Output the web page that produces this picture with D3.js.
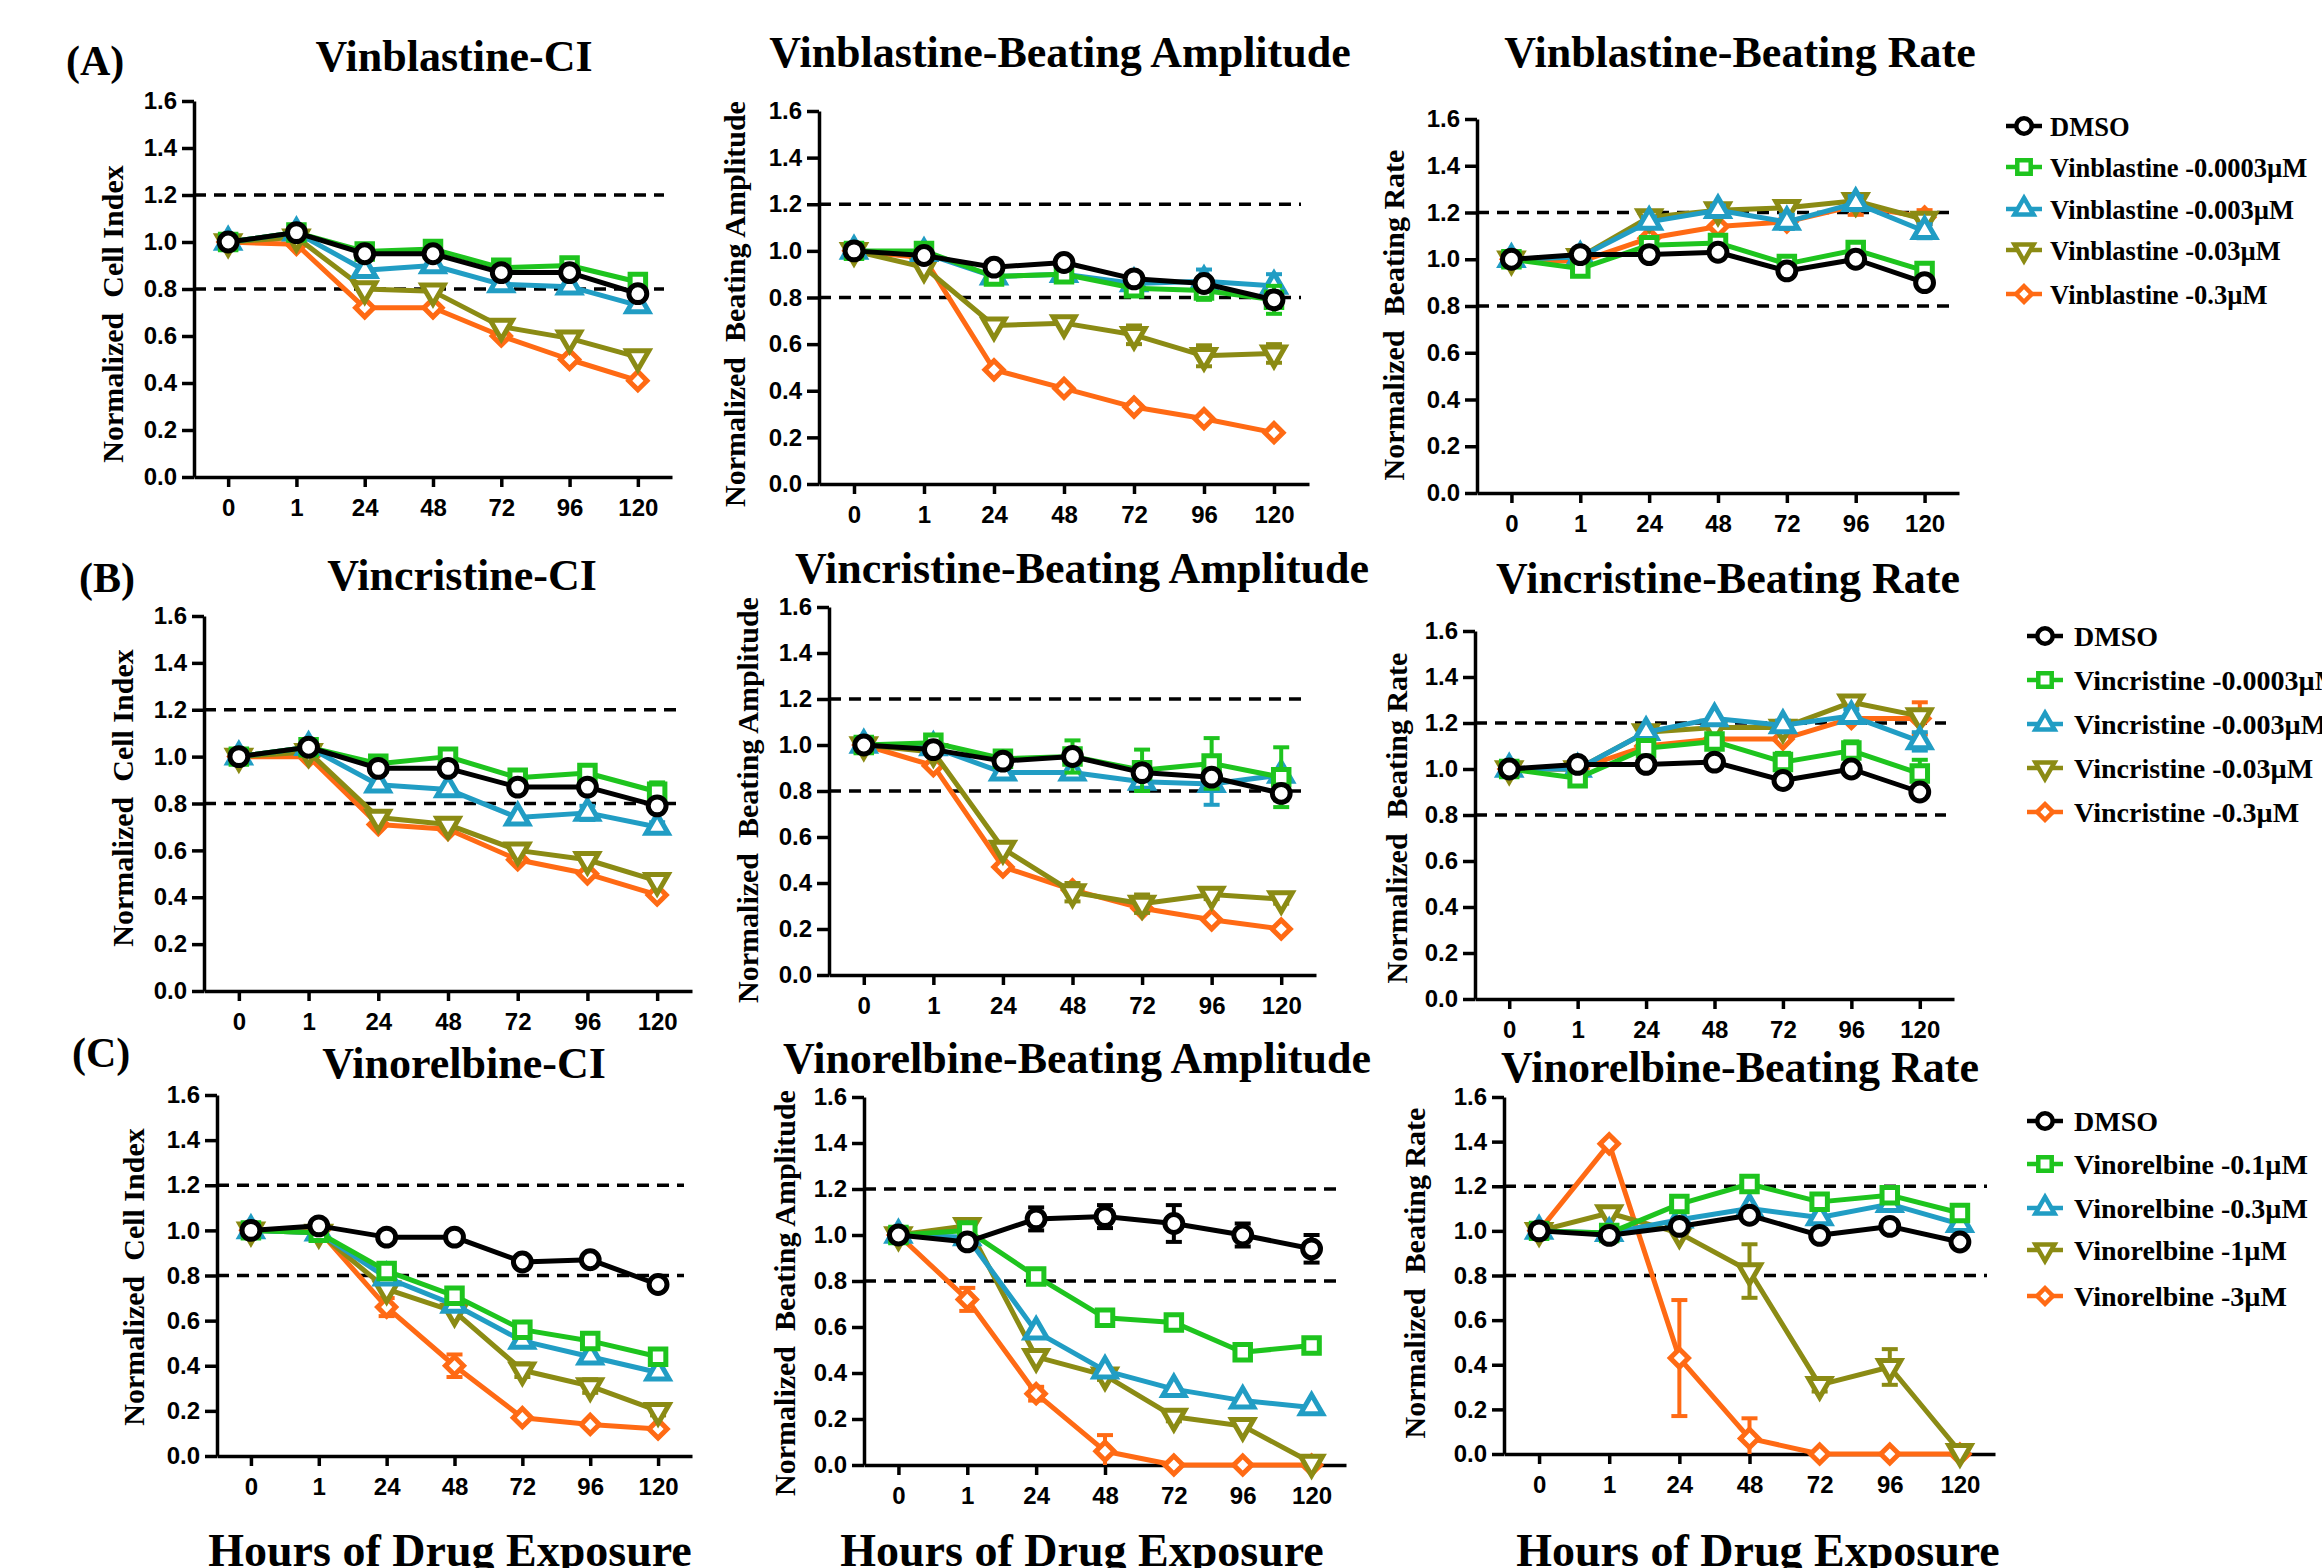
<!DOCTYPE html>
<html>
<head>
<meta charset="utf-8">
<script src="https://cdn.jsdelivr.net/npm/d3@7"></script>
<style>
  body { margin: 0; background: #fff; }
  svg { display: block; }
</style>
</head>
<body>
<script>
// x categories and y ticks shared by all nine panels
const hours = ["0", "1", "24", "48", "72", "96", "120"];
const yTicks = [0, 0.2, 0.4, 0.6, 0.8, 1.0, 1.2, 1.4, 1.6];
const thresholds = [0.8, 1.2];

const vinblastineLegend = ["DMSO", "Vinblastine -0.0003µM", "Vinblastine -0.003µM", "Vinblastine -0.03µM", "Vinblastine -0.3µM"];
const vincristineLegend = ["DMSO", "Vincristine -0.0003µM", "Vincristine -0.003µM", "Vincristine -0.03µM", "Vincristine -0.3µM"];
const vinorelbineLegend = ["DMSO", "Vinorelbine -0.1µM", "Vinorelbine -0.3µM", "Vinorelbine -1µM", "Vinorelbine -3µM"];

// each panel: [DMSO, dose1, dose2, dose3, dose4]
const vinblastineCI = [
  [1.00, 1.04, 0.95, 0.95, 0.87, 0.87, 0.78],
  [1.00, 1.04, 0.96, 0.97, 0.89, 0.90, 0.83],
  [1.00, 1.04, 0.88, 0.90, 0.82, 0.81, 0.73],
  [1.00, 1.02, 0.80, 0.79, 0.64, 0.59, 0.51],
  [1.00, 0.99, 0.72, 0.72, 0.60, 0.50, 0.41]
];
const vinblastineAmp = [
  [1.00, 0.98, 0.93, 0.95, 0.88, 0.86, 0.79],
  [1.00, 1.00, 0.89, 0.90, 0.84, 0.83, 0.79],
  [1.00, 0.99, 0.89, 0.90, 0.86, 0.87, 0.85],
  [1.00, 0.93, 0.68, 0.69, 0.64, 0.55, 0.56],
  [1.00, 0.97, 0.49, 0.41, 0.33, 0.28, 0.22]
];
const vinblastineAmpErr = [
  [0, 0, 0, 0, 0, 0, 0.03],
  [0, 0, 0, 0, 0.02, 0.04, 0.06],
  [0, 0, 0, 0, 0.02, 0.05, 0.05],
  [0, 0, 0, 0, 0.04, 0.045, 0.04],
  [0, 0, 0, 0, 0, 0, 0]
];
const vinblastineRate = [
  [1.00, 1.02, 1.02, 1.03, 0.95, 1.00, 0.90],
  [1.00, 0.96, 1.06, 1.07, 0.98, 1.04, 0.95],
  [1.00, 1.01, 1.16, 1.21, 1.16, 1.24, 1.12],
  [1.00, 1.01, 1.18, 1.21, 1.22, 1.25, 1.17],
  [1.00, 0.99, 1.09, 1.14, 1.16, 1.23, 1.18]
];
const vinblastineRateErr = [
  [0, 0, 0, 0, 0.02, 0, 0],
  [0, 0, 0.02, 0.02, 0.02, 0.02, 0.02],
  [0, 0, 0.02, 0.02, 0.03, 0.03, 0.03],
  [0, 0, 0, 0, 0, 0, 0],
  [0, 0, 0, 0, 0, 0.04, 0.03]
];

const vincristineCI = [
  [1.00, 1.04, 0.95, 0.95, 0.87, 0.87, 0.79],
  [1.00, 1.04, 0.97, 1.00, 0.91, 0.93, 0.85],
  [1.00, 1.04, 0.88, 0.86, 0.74, 0.76, 0.70],
  [1.00, 1.02, 0.74, 0.71, 0.60, 0.56, 0.47],
  [1.00, 1.00, 0.71, 0.69, 0.56, 0.50, 0.41]
];
const vincristineCIErr = [
  [0, 0, 0, 0, 0, 0, 0],
  [0, 0, 0, 0, 0, 0.03, 0.04],
  [0, 0, 0, 0, 0, 0.03, 0.02],
  [0, 0, 0, 0, 0, 0, 0],
  [0, 0, 0, 0, 0, 0, 0]
];
const vincristineAmp = [
  [1.00, 0.98, 0.93, 0.95, 0.88, 0.86, 0.79],
  [1.00, 1.01, 0.94, 0.95, 0.89, 0.92, 0.86],
  [1.00, 0.99, 0.88, 0.88, 0.84, 0.83, 0.87],
  [1.00, 0.97, 0.55, 0.36, 0.31, 0.35, 0.33],
  [1.00, 0.91, 0.47, 0.37, 0.29, 0.24, 0.20]
];
const vincristineAmpErr = [
  [0, 0, 0, 0, 0, 0, 0.03],
  [0, 0, 0.02, 0.07, 0.09, 0.11, 0.13],
  [0, 0, 0, 0, 0.04, 0.09, 0],
  [0, 0, 0, 0.04, 0.04, 0.02, 0.02],
  [0, 0, 0, 0, 0, 0, 0]
];
const vincristineRate = [
  [1.00, 1.02, 1.02, 1.03, 0.95, 1.00, 0.90],
  [1.00, 0.96, 1.09, 1.12, 1.03, 1.08, 0.98],
  [1.00, 1.00, 1.16, 1.22, 1.19, 1.23, 1.12],
  [1.00, 1.00, 1.16, 1.18, 1.18, 1.29, 1.23],
  [1.00, 1.00, 1.10, 1.13, 1.13, 1.22, 1.22]
];
const vincristineRateErr = [
  [0, 0, 0, 0, 0.02, 0, 0],
  [0, 0, 0.02, 0.03, 0.04, 0.04, 0.06],
  [0, 0, 0, 0, 0.02, 0.03, 0.04],
  [0, 0, 0, 0, 0, 0, 0],
  [0, 0, 0, 0, 0, 0, 0.07]
];

const vinorelbineCI = [
  [1.00, 1.02, 0.97, 0.97, 0.86, 0.87, 0.76],
  [1.00, 0.99, 0.82, 0.71, 0.56, 0.51, 0.44],
  [1.00, 0.99, 0.79, 0.67, 0.51, 0.44, 0.37],
  [1.00, 0.99, 0.74, 0.64, 0.38, 0.31, 0.20],
  [1.00, 1.00, 0.66, 0.40, 0.17, 0.14, 0.12]
];
const vinorelbineCIErr = [
  [0, 0, 0, 0, 0, 0, 0],
  [0, 0, 0, 0, 0, 0, 0],
  [0, 0, 0, 0, 0, 0, 0],
  [0, 0, 0, 0, 0.03, 0.03, 0.02],
  [0, 0, 0.04, 0.05, 0, 0, 0]
];
const vinorelbineAmp = [
  [1.00, 0.97, 1.07, 1.08, 1.05, 1.00, 0.94],
  [1.00, 1.02, 0.82, 0.64, 0.62, 0.49, 0.52],
  [1.00, 0.99, 0.58, 0.41, 0.33, 0.28, 0.25],
  [1.00, 1.04, 0.47, 0.39, 0.21, 0.17, 0.01],
  [1.00, 0.72, 0.31, 0.06, 0.00, 0.00, 0.00]
];
const vinorelbineAmpErr = [
  [0, 0.02, 0.05, 0.05, 0.08, 0.05, 0.06],
  [0, 0.02, 0, 0, 0.03, 0.03, 0.03],
  [0, 0, 0, 0, 0, 0, 0],
  [0, 0, 0, 0.02, 0.02, 0, 0],
  [0, 0.05, 0.03, 0.07, 0, 0, 0]
];
const vinorelbineRate = [
  [1.00, 0.98, 1.02, 1.07, 0.98, 1.02, 0.95],
  [1.00, 0.99, 1.12, 1.21, 1.13, 1.16, 1.08],
  [1.00, 0.99, 1.05, 1.10, 1.06, 1.12, 1.03],
  [1.00, 1.08, 0.99, 0.82, 0.31, 0.39, 0.01],
  [1.00, 1.39, 0.43, 0.07, 0.00, 0.00, 0.00]
];
const vinorelbineRateErr = [
  [0, 0.02, 0, 0, 0, 0, 0],
  [0, 0, 0, 0, 0, 0, 0],
  [0, 0, 0, 0, 0, 0, 0],
  [0, 0, 0, 0.12, 0.03, 0.08, 0],
  [0, 0, 0.26, 0.09, 0, 0, 0]
];

// styles
const colors = ["#000000", "#1ec41e", "#219dc4", "#8b8b14", "#ff6a14"];
const markerTypes = [d3.symbolCircle, d3.symbolSquare, d3.symbolTriangle, d3.symbolTriangle, d3.symbolSquare];
const markerRotate = [0, 0, 0, 180, 45];
const markerSize = [250, 240, 210, 210, 165];
const serif = '"Liberation Serif", "Times New Roman", serif';
const sans = '"Liberation Sans", Arial, sans-serif';

const panels = [
  { vals: vinblastineCI, err: null, title: "Vinblastine-CI", ylabel: "Normalized  Cell Index",
    left: 194, right: 672, top: 101, bottom: 477, tx: 454, ty: 71, lx: 123, ly: 314 },
  { vals: vinblastineAmp, err: vinblastineAmpErr, title: "Vinblastine-Beating Amplitude", ylabel: "Normalized  Beating Amplitude",
    left: 819, right: 1309, top: 111, bottom: 484, tx: 1060, ty: 67, lx: 745, ly: 304 },
  { vals: vinblastineRate, err: vinblastineRateErr, title: "Vinblastine-Beating Rate", ylabel: "Normalized  Beating Rate",
    left: 1477, right: 1959, top: 119, bottom: 493, tx: 1740, ty: 67, lx: 1404, ly: 315 },
  { vals: vincristineCI, err: vincristineCIErr, title: "Vincristine-CI", ylabel: "Normalized  Cell Index",
    left: 204, right: 692, top: 616, bottom: 991, tx: 462, ty: 590, lx: 133, ly: 798 },
  { vals: vincristineAmp, err: vincristineAmpErr, title: "Vincristine-Beating Amplitude", ylabel: "Normalized  Beating Amplitude",
    left: 829, right: 1316, top: 607, bottom: 975, tx: 1082, ty: 583, lx: 758, ly: 800 },
  { vals: vincristineRate, err: vincristineRateErr, title: "Vincristine-Beating Rate", ylabel: "Normalized  Beating Rate",
    left: 1475, right: 1954, top: 631, bottom: 999, tx: 1728, ty: 593, lx: 1407, ly: 818 },
  { vals: vinorelbineCI, err: vinorelbineCIErr, title: "Vinorelbine-CI", ylabel: "Normalized  Cell Index",
    left: 217, right: 692, top: 1095, bottom: 1456, tx: 464, ty: 1078, lx: 144, ly: 1277 },
  { vals: vinorelbineAmp, err: vinorelbineAmpErr, title: "Vinorelbine-Beating Amplitude", ylabel: "Normalized  Beating Amplitude",
    left: 864, right: 1346, top: 1097, bottom: 1465, tx: 1077, ty: 1073, lx: 795, ly: 1293 },
  { vals: vinorelbineRate, err: vinorelbineRateErr, title: "Vinorelbine-Beating Rate", ylabel: "Normalized  Beating Rate",
    left: 1504, right: 1995, top: 1097, bottom: 1454, tx: 1740, ty: 1082, lx: 1425, ly: 1273 }
];

const legends = [
  { labels: vinblastineLegend, mx: 2024, tx: 2050, fs: 26.5, ys: [126, 167, 209, 250, 294] },
  { labels: vincristineLegend, mx: 2045, tx: 2074, fs: 28, ys: [636, 680, 724, 768, 812] },
  { labels: vinorelbineLegend, mx: 2045, tx: 2074, fs: 28, ys: [1121, 1164, 1208, 1250, 1296] }
];

const svg = d3.select("body").append("svg")
  .attr("width", 2322)
  .attr("height", 1568);

svg.append("rect").attr("width", 2322).attr("height", 1568).attr("fill", "#fff");

const symbolPath = (i, k = 1) => d3.symbol().type(markerTypes[i]).size(markerSize[i] * k)();

const plot = (p) => {
  const x = d3.scalePoint().domain(hours).range([p.left, p.right]).padding(0.5);
  const y = d3.scaleLinear().domain([0, 1.6]).range([p.bottom, p.top]);
  const g = svg.append("g");

  // reference lines
  g.selectAll(".thr")
    .data(thresholds)
    .enter()
    .append("line")
    .attr("x1", p.left)
    .attr("x2", p.right - 8)
    .attr("y1", d => y(d))
    .attr("y2", d => y(d))
    .attr("stroke", "#000")
    .attr("stroke-width", 3.5)
    .attr("stroke-dasharray", "12,8");

  const yAxis = g.append("g")
    .attr("transform", `translate(${p.left},0)`)
    .call(d3.axisLeft(y).tickValues(yTicks).tickFormat(d3.format(".1f")).tickSize(12).tickSizeOuter(0).tickPadding(5));

  const xAxis = g.append("g")
    .attr("transform", `translate(0,${p.bottom})`)
    .call(d3.axisBottom(x).tickSize(10).tickSizeOuter(0).tickPadding(12));

  [yAxis, xAxis].forEach(ax => {
    ax.selectAll("path, line").attr("stroke", "#000").attr("stroke-width", 3.5);
    ax.selectAll("text")
      .attr("fill", "#000")
      .style("font-family", sans)
      .style("font-weight", "bold")
      .style("font-size", "24px");
  });

  const line = d3.line()
    .x((d, i) => x(hours[i]))
    .y(d => y(d));

  // draw highest dose first so DMSO ends on top
  [4, 3, 2, 1, 0].forEach(s => {
    const vals = p.vals[s];
    const errs = p.err ? p.err[s] : vals.map(() => 0);
    const sg = g.append("g");

    sg.append("path")
      .datum(vals)
      .attr("d", line)
      .attr("fill", "none")
      .attr("stroke", colors[s])
      .attr("stroke-width", 5)
      .attr("stroke-linejoin", "round");

    const eb = vals.map((v, i) => ({ v, e: errs[i], h: hours[i] })).filter(d => d.e > 0);
    const bars = sg.selectAll(".err")
      .data(eb)
      .enter()
      .append("g")
      .attr("stroke", colors[s])
      .attr("stroke-width", 4);
    bars.append("line")
      .attr("x1", d => x(d.h)).attr("x2", d => x(d.h))
      .attr("y1", d => y(Math.max(0, d.v - d.e)))
      .attr("y2", d => y(Math.min(1.6, d.v + d.e)));
    bars.append("line")
      .attr("x1", d => x(d.h) - 8).attr("x2", d => x(d.h) + 8)
      .attr("y1", d => y(d.v + d.e)).attr("y2", d => y(d.v + d.e));
    bars.filter(d => d.v - d.e > 0).append("line")
      .attr("x1", d => x(d.h) - 8).attr("x2", d => x(d.h) + 8)
      .attr("y1", d => y(d.v - d.e)).attr("y2", d => y(d.v - d.e));

    sg.selectAll(".pt")
      .data(vals)
      .enter()
      .append("path")
      .attr("d", symbolPath(s))
      .attr("transform", (d, i) => `translate(${x(hours[i])},${y(d)}) rotate(${markerRotate[s]})`)
      .attr("fill", "#fff")
      .attr("stroke", colors[s])
      .attr("stroke-width", 5);
  });

  g.append("text")
    .attr("x", p.tx)
    .attr("y", p.ty)
    .attr("text-anchor", "middle")
    .style("font-family", serif)
    .style("font-weight", "bold")
    .style("font-size", "44px")
    .text(p.title);

  g.append("text")
    .attr("transform", `translate(${p.lx},${p.ly}) rotate(-90)`)
    .attr("text-anchor", "middle")
    .style("font-family", serif)
    .style("font-weight", "bold")
    .style("font-size", "30px")
    .style("white-space", "pre")
    .text(p.ylabel);
};

panels.forEach(plot);

// legends
legends.forEach(lg => {
  const g = svg.append("g");
  lg.labels.forEach((lab, i) => {
    g.append("line")
      .attr("x1", lg.mx - 18).attr("x2", lg.mx + 18)
      .attr("y1", lg.ys[i]).attr("y2", lg.ys[i])
      .attr("stroke", colors[i]).attr("stroke-width", 4.5);
    g.append("path")
      .attr("d", symbolPath(i, 0.75))
      .attr("transform", `translate(${lg.mx},${lg.ys[i]}) rotate(${markerRotate[i]})`)
      .attr("fill", "#fff")
      .attr("stroke", colors[i])
      .attr("stroke-width", 4.5);
    g.append("text")
      .attr("x", lg.tx)
      .attr("y", lg.ys[i] + 10)
      .style("font-family", serif)
      .style("font-weight", "bold")
      .style("font-size", lg.fs + "px")
      .text(lab);
  });
});

// panel letters
[["(A)", 66, 75], ["(B)", 79, 592], ["(C)", 72, 1067]].forEach(([t, px, py]) => {
  svg.append("text")
    .attr("x", px).attr("y", py)
    .style("font-family", serif)
    .style("font-weight", "bold")
    .style("font-size", "42px")
    .text(t);
});

// shared x-axis titles under the bottom row
[450, 1082, 1758].forEach(cx => {
  svg.append("text")
    .attr("x", cx).attr("y", 1566)
    .attr("text-anchor", "middle")
    .style("font-family", serif)
    .style("font-weight", "bold")
    .style("font-size", "46px")
    .text("Hours of Drug Exposure");
});
</script>
</body>
</html>
